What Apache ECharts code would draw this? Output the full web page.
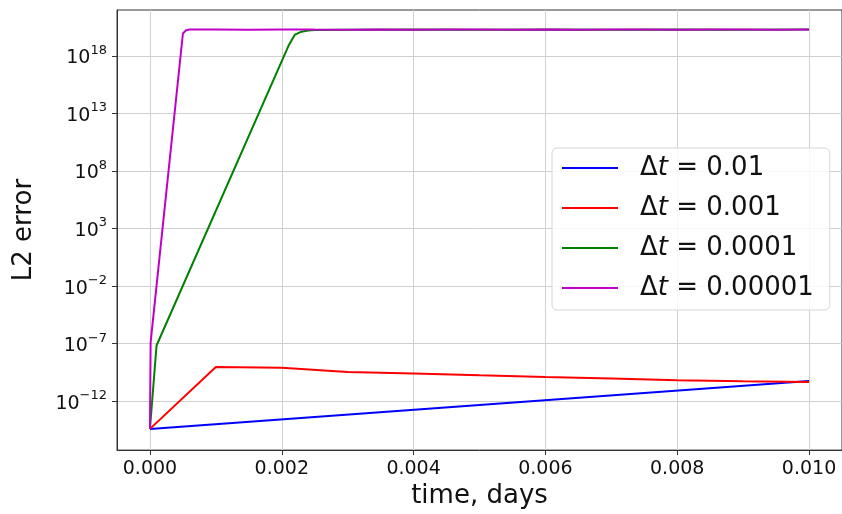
<!DOCTYPE html>
<html>
<head>
<meta charset="utf-8">
<script src="https://cdn.jsdelivr.net/npm/echarts@6/dist/echarts.min.js"></script>
<style>
  html, body { margin: 0; padding: 0; background: #fff; }
  #chart { width: 842px; height: 514px; }
</style>
</head>
<body>
<div id="chart"></div>
<script>
// ---- data (time in days, L2 error) ----
const seriesNames = ['Δt = 0.01', 'Δt = 0.001', 'Δt = 0.0001', 'Δt = 0.00001'];

const blueX = [0, 0.01];
const blueY = [4.0e-15, 5.9e-11];

const redX = [0, 0.001, 0.002, 0.003, 0.004, 0.005, 0.006, 0.007, 0.008, 0.009, 0.010];
const redY = [4.0e-15, 9.5e-10, 8.3e-10, 3.5e-10, 2.6e-10, 1.8e-10, 1.26e-10, 9.3e-11, 6.6e-11, 5.6e-11, 4.8e-11];

const greenX = [0, 0.0001, 0.0021, 0.0022, 0.0023, 0.0024, 0.0025, 0.003, 0.004, 0.005, 0.006, 0.007, 0.008, 0.009, 0.010];
const greenY = [4.0e-15, 7.0e-8, 7.0e18, 7.0e19, 1.26e20, 1.6e20, 1.75e20, 1.85e20, 1.9e20, 1.85e20, 1.9e20, 1.88e20, 1.9e20, 1.87e20, 1.9e20];

const purpleX = [0, 0.00001, 0.0005, 0.00055, 0.0006, 0.001, 0.0015, 0.002, 0.0025, 0.003, 0.0035, 0.004, 0.0045, 0.005, 0.0055, 0.006, 0.0065, 0.007, 0.0075, 0.008, 0.0085, 0.009, 0.0095, 0.010];
const purpleY = [4.0e-15, 1.3e-7, 8.7e19, 1.7e20, 1.9e20, 1.92e20, 1.85e20, 1.95e20, 1.9e20, 1.88e20, 1.93e20, 1.86e20, 1.9e20, 1.95e20, 1.88e20, 1.9e20, 1.84e20, 1.92e20, 1.9e20, 1.87e20, 1.93e20, 1.9e20, 1.88e20, 1.9e20];

const xTicks = [0, 0.002, 0.004, 0.006, 0.008, 0.010];
const yTicks = [1e-12, 1e-7, 1e-2, 1e3, 1e8, 1e13, 1e18];

const colors = ['#0000ff', '#ff0000', '#008000', '#c000c8'];

function pairs(xs, ys) { return xs.map((x, i) => [x, ys[i]]); }

const chart = echarts.init(document.getElementById('chart'), null, { renderer: 'canvas' });
const FONT = 'DejaVu Sans';

function supLabel(v) {
  const e = Math.round(Math.log10(v));
  const s = (e < 0 ? '\u2212' + (-e) : '' + e);
  return '{b|10}{s|' + s + '}';
}

const seriesData = [pairs(blueX, blueY), pairs(redX, redY), pairs(greenX, greenY), pairs(purpleX, purpleY)];

chart.setOption({
  animation: false,
  backgroundColor: '#ffffff',
  grid: {
    left: 117, top: 10, right: -3, bottom: 62,
    show: true, borderColor: '#333333', borderWidth: 1, backgroundColor: 'transparent'
  },
  xAxis: {
    type: 'value',
    min: -0.0005, max: 0.0105,
    name: 'time, days',
    nameLocation: 'middle',
    nameGap: 32,
    nameTextStyle: { fontFamily: FONT, fontSize: 26, color: '#111' },
    axisLine: { show: true, onZero: false, lineStyle: { color: '#333', width: 1 } },
    axisTick: { show: true, length: 5, inside: false, customValues: xTicks, lineStyle: { color: '#333' } },
    axisLabel: {
      customValues: xTicks,
      margin: 9,
      fontFamily: FONT, fontSize: 19, color: '#111',
      formatter: v => v.toFixed(3)
    },
    splitLine: { show: true, lineStyle: { color: '#d0d0d0', width: 1 } }
  },
  yAxis: {
    type: 'log',
    logBase: 10,
    min: Math.pow(10, -16.24),
    max: Math.pow(10, 21.98),
    name: 'L2 error',
    nameLocation: 'middle',
    nameRotate: 90,
    nameGap: 80,
    nameTextStyle: { fontFamily: FONT, fontSize: 26, color: '#111' },
    axisLine: { show: true, onZero: false, lineStyle: { color: '#333', width: 1 } },
    axisTick: { show: true, length: 5, inside: false, customValues: yTicks, lineStyle: { color: '#333' } },
    minorTick: { show: false },
    axisLabel: {
      customValues: yTicks,
      margin: 10,
      formatter: supLabel,
      rich: {
        b: { fontFamily: FONT, fontSize: 19, color: '#111', lineHeight: 24, verticalAlign: 'bottom' },
        s: { fontFamily: FONT, fontSize: 13, color: '#111', lineHeight: 14, verticalAlign: 'top' }
      }
    },
    splitLine: { show: true, lineStyle: { color: '#d0d0d0', width: 1 } }
  },
  legend: {
    orient: 'vertical',
    left: 552, top: 148,
    padding: [6, 16, 8, 10],
    icon: 'rect',
    itemWidth: 56, itemHeight: 2, itemGap: 12,
    backgroundColor: 'rgba(255,255,255,0.85)',
    borderColor: '#d6d6d6', borderWidth: 1, borderRadius: 5,
    data: seriesNames,
    formatter: n => 'Δ{i|t}' + n.slice(2),
    textStyle: {
      fontFamily: FONT, fontSize: 26, color: '#111', lineHeight: 28,
      padding: [0, 0, 0, 17],
      rich: { i: { fontFamily: FONT, fontSize: 26, fontStyle: 'italic', color: '#111', lineHeight: 28 } }
    }
  },
  series: seriesNames.map((name, i) => ({
    name: name,
    type: 'line',
    data: seriesData[i],
    symbol: 'none',
    showSymbol: false,
    clip: true,
    color: colors[i],
    lineStyle: { color: colors[i], width: 2 },
    z: 2 + i
  }))
});
</script>
</body>
</html>
